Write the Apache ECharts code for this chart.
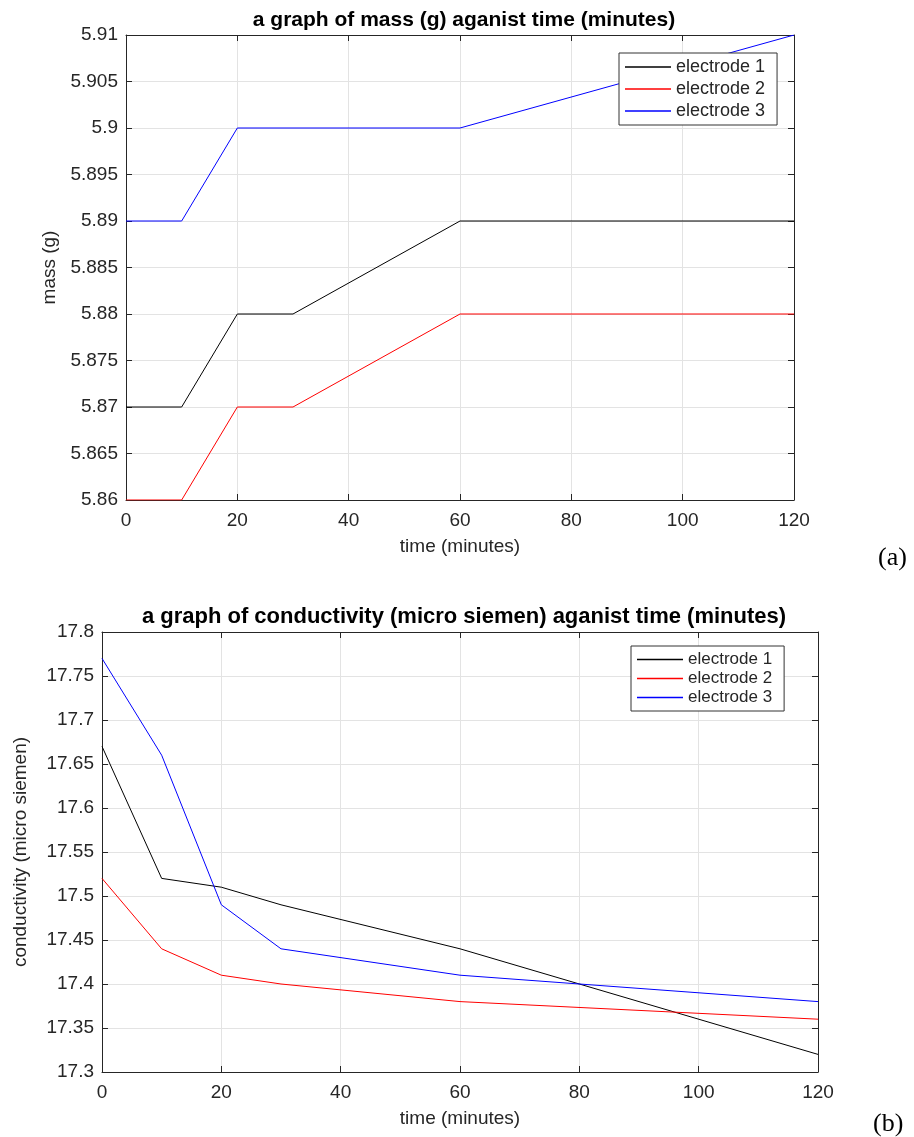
<!DOCTYPE html>
<html>
<head>
<meta charset="utf-8">
<script src="https://cdn.jsdelivr.net/npm/echarts@6/dist/echarts.min.js"></script>
<style>
  html, body { margin: 0; padding: 0; background: #fff; }
  #main { width: 914px; height: 1137px; }
</style>
</head>
<body>
<div id="main"></div>
<script>
// time points (minutes)
var time = [0, 10, 20, 30, 60, 120];

// (a) mass (g)
var mass1 = [5.87, 5.87, 5.88, 5.88, 5.89, 5.89];
var mass2 = [5.86, 5.86, 5.87, 5.87, 5.88, 5.88];
var mass3 = [5.89, 5.89, 5.90, 5.90, 5.90, 5.91];

// (b) conductivity (micro siemen)
var cond1 = [17.67, 17.52, 17.51, 17.49, 17.44, 17.32];
var cond2 = [17.52, 17.44, 17.41, 17.40, 17.38, 17.36];
var cond3 = [17.77, 17.66, 17.49, 17.44, 17.41, 17.38];

var names = ["electrode 1", "electrode 2", "electrode 3"];
var colors = ["#000000", "#ff0000", "#0000ff"];

function pairs(ys) {
  return time.map(function (t, i) { return [t, ys[i]]; });
}

var font = "Liberation Sans, Arial, sans-serif";
var txt = "#262626";

function mainX(gi, nameGap) {
  return {
    gridIndex: gi, type: "value", min: 0, max: 120, interval: 20,
    name: "time (minutes)", nameLocation: "middle", nameGap: nameGap,
    nameTextStyle: { fontFamily: font, fontSize: 19, color: txt },
    axisLine: { show: true, onZero: false, lineStyle: { color: "#262626", width: 1 } },
    axisTick: { show: true, inside: true, length: 6, lineStyle: { color: "#262626" } },
    axisLabel: { fontFamily: font, fontSize: 19, color: txt, margin: 11 },
    splitLine: { show: true, lineStyle: { color: "#e3e3e3", width: 1 } }
  };
}
function boxX(gi) {
  return {
    gridIndex: gi, type: "value", min: 0, max: 120, interval: 20, position: "top",
    axisLine: { show: true, onZero: false, lineStyle: { color: "#262626", width: 1 } },
    axisTick: { show: true, inside: true, length: 6, lineStyle: { color: "#262626" } },
    axisLabel: { show: false }, splitLine: { show: false }
  };
}
function mainY(gi, min, max, step, dec, name, nameGap) {
  return {
    gridIndex: gi, type: "value", min: min, max: max, interval: step,
    name: name, nameLocation: "middle", nameGap: nameGap,
    nameTextStyle: { fontFamily: font, fontSize: 19, color: txt },
    axisLine: { show: true, onZero: false, lineStyle: { color: "#262626", width: 1 } },
    axisTick: { show: true, inside: true, length: 6, lineStyle: { color: "#262626" } },
    axisLabel: {
      fontFamily: font, fontSize: 19, color: txt, margin: 8,
      formatter: function (v) { return String(+v.toFixed(dec)); }
    },
    splitLine: { show: true, lineStyle: { color: "#e3e3e3", width: 1 } }
  };
}
function boxY(gi, min, max, step) {
  return {
    gridIndex: gi, type: "value", min: min, max: max, interval: step, position: "right",
    axisLine: { show: true, onZero: false, lineStyle: { color: "#262626", width: 1 } },
    axisTick: { show: true, inside: true, length: 6, lineStyle: { color: "#262626" } },
    axisLabel: { show: false }, splitLine: { show: false }
  };
}

var series = [];
[mass1, mass2, mass3].forEach(function (d, i) {
  series.push({
    name: names[i], type: "line", xAxisIndex: 0, yAxisIndex: 0, data: pairs(d),
    showSymbol: false, lineStyle: { color: colors[i], width: 1 }, itemStyle: { color: colors[i] },
    animation: false, z: 3
  });
});
[cond1, cond2, cond3].forEach(function (d, i) {
  series.push({
    name: names[i], type: "line", xAxisIndex: 2, yAxisIndex: 2, data: pairs(d),
    showSymbol: false, lineStyle: { color: colors[i], width: 1 }, itemStyle: { color: colors[i] },
    animation: false, z: 3
  });
});

function legendAt(left, top, gap, size) {
  return {
    left: left, top: top, orient: "vertical",
    data: names.map(function (n, i) {
      return { name: n, itemStyle: { color: colors[i] } };
    }),
    icon: "rect", itemWidth: 46, itemHeight: 1.3, itemGap: gap,
    backgroundColor: "#fff", borderColor: "#333", borderWidth: 1,
    padding: [5, 12, 5, 6], selectedMode: false,
    textStyle: { fontFamily: font, fontSize: size, color: txt }
  };
}

var chart = echarts.init(document.getElementById("main"));
chart.setOption({
  animation: false,
  title: [
    { text: "a graph of mass (g) aganist time (minutes)", left: 459, top: 5, textAlign: "center",
      textStyle: { fontFamily: font, fontSize: 21, fontWeight: "bold", color: "#000" } },
    { text: "a graph of conductivity (micro siemen) aganist time (minutes)", left: 459, top: 601, textAlign: "center",
      textStyle: { fontFamily: font, fontSize: 22, fontWeight: "bold", color: "#000" } }
  ],
  grid: [
    { left: 126, top: 35, width: 668, height: 465, containLabel: false },
    { left: 102, top: 632, width: 716, height: 440, containLabel: false }
  ],
  xAxis: [mainX(0, 37), boxX(0), mainX(1, 37), boxX(1)],
  yAxis: [
    mainY(0, 5.86, 5.91, 0.005, 3, "mass (g)", 67),
    boxY(0, 5.86, 5.91, 0.005),
    mainY(1, 17.3, 17.8, 0.05, 2, "conductivity (micro siemen)", 72),
    boxY(1, 17.3, 17.8, 0.05)
  ],
  legend: [legendAt(619, 53, 4, 18), legendAt(631, 646, 2, 17)],
  graphic: [
    { type: "text", left: 878, top: 545, style: { text: "(a)", font: "26px 'Liberation Serif', serif", fill: "#000" } },
    { type: "text", left: 873, top: 1111, style: { text: "(b)", font: "26px 'Liberation Serif', serif", fill: "#000" } }
  ],
  series: series
});
</script>
</body>
</html>
